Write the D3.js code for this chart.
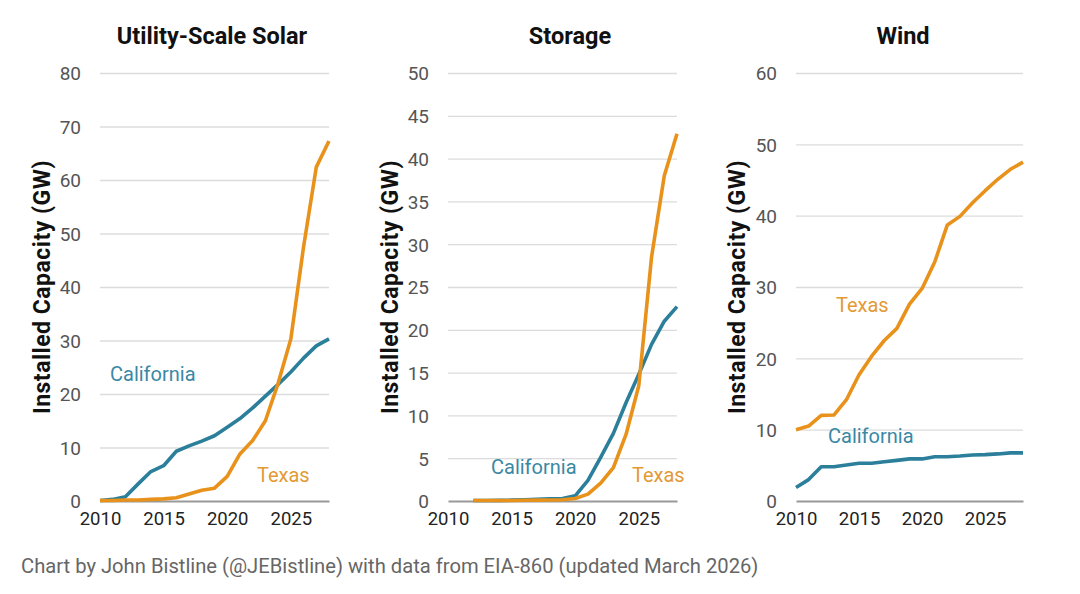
<!DOCTYPE html>
<html>
<head>
<meta charset="utf-8">
<script src="https://cdn.jsdelivr.net/npm/d3@7"></script>
<style>
  body { margin: 0; background: #fff; }
  svg { font-family: Roboto, "Noto Sans", sans-serif; display: block; }
  .grid line { stroke: #dcdcdc; stroke-width: 1.3; }
  .grid .domain { display: none; }
  .ytick text { fill: #555; font-size: 19px; }
  .xtick text { fill: #222; font-size: 18.5px; }
  .xtick .domain { stroke: #999; stroke-width: 2; }
  .xtick line { display: none; }
  .panelTitle { font-size: 23.5px; font-weight: bold; fill: #111; text-anchor: middle; }
  .axisTitle { font-size: 23px; font-weight: bold; fill: #111; text-anchor: middle; letter-spacing: 0.5px; }
  .seriesLabel { font-size: 20px; }
  .footer { font-size: 20.2px; fill: #666; }
</style>
</head>
<body>
<script>
//years on the x axis
var years = d3.range(2010, 2029);
var xTicks = [2010, 2015, 2020, 2025];

//utility-scale solar (GW)
var solarCalifornia = [0.1, 0.3, 0.8, 3.2, 5.5, 6.6, 9.3, 10.3, 11.2, 12.2, 13.8, 15.4, 17.4, 19.6, 21.8, 24.1, 26.7, 29.0, 30.3];
var solarTexas = [0.1, 0.1, 0.2, 0.2, 0.3, 0.4, 0.6, 1.3, 2.0, 2.4, 4.6, 8.8, 11.3, 15.0, 22.0, 30.3, 47.5, 62.4, 67.3];

//storage (GW), starts in 2012
var storageYears = d3.range(2012, 2029);
var storageCalifornia = [0.05, 0.05, 0.07, 0.1, 0.15, 0.2, 0.25, 0.3, 0.6, 2.4, 5.1, 7.9, 11.5, 14.8, 18.3, 21.0, 22.7];
var storageTexas = [0.05, 0.05, 0.05, 0.06, 0.08, 0.1, 0.12, 0.15, 0.3, 0.8, 2.1, 3.9, 7.8, 13.5, 28.5, 38.0, 42.9];

//wind (GW)
var windCalifornia = [1.9, 3.0, 4.8, 4.8, 5.05, 5.3, 5.3, 5.5, 5.7, 5.9, 5.9, 6.2, 6.2, 6.3, 6.45, 6.5, 6.6, 6.75, 6.75];
var windTexas = [10.0, 10.5, 12.0, 12.05, 14.2, 17.7, 20.3, 22.5, 24.2, 27.6, 29.8, 33.5, 38.7, 39.9, 41.8, 43.5, 45.1, 46.5, 47.5];

var panelTitles = ["Utility-Scale Solar", "Storage", "Wind"];
var yMaxes = [80, 50, 60];
var yTickSteps = [10, 5, 10];
var footerText = "Chart by John Bistline (@JEBistline) with data from EIA-860 (updated March 2026)";

var blue = "#2b7f9b",
    orange = "#e8921c",
    blueText = "#3a88a4",
    orangeText = "#e39a34";

var width = 1080,
    height = 594;

var svg = d3.select("body")
    .append("svg")
    .attr("width", width)
    .attr("height", height);

//panel frames: left/right of the plot area, label spots
var panels = [
    {x0: 100, x1: 329, titleX: 212, axisX: 42,
     ca: solarCalifornia, tx: solarTexas, yrs: years,
     caLabel: [110, 381], txLabel: [257, 482]},
    {x0: 448, x1: 677, titleX: 570, axisX: 390,
     ca: storageCalifornia, tx: storageTexas, yrs: storageYears,
     caLabel: [491, 474], txLabel: [632, 482]},
    {x0: 796, x1: 1023, titleX: 903, axisX: 737,
     ca: windCalifornia, tx: windTexas, yrs: years,
     caLabel: [828, 443], txLabel: [836, 312]}
];

var yTop = 73, yBottom = 501;

panels.forEach(function(p, i){
    var g = svg.append("g");

    var x = d3.scaleLinear()
        .domain([2010, 2028])
        .range([p.x0, p.x1]);

    var y = d3.scaleLinear()
        .domain([0, yMaxes[i]])
        .range([yBottom, yTop]);

    var yticks = d3.range(0, yMaxes[i] + 0.001, yTickSteps[i]);

    //gridlines
    g.append("g")
        .attr("class", "grid")
        .attr("transform", "translate(" + p.x0 + ",0)")
        .call(d3.axisLeft(y).tickValues(yticks.slice(1)).tickSize(-(p.x1 - p.x0)).tickFormat(""));

    //y tick labels
    var ya = g.append("g")
        .attr("class", "ytick")
        .attr("transform", "translate(" + (p.x0 - 19) + ",0)")
        .call(d3.axisLeft(y).tickValues(yticks).tickSize(0).tickPadding(0));
    ya.select(".domain").remove();
    ya.selectAll("text").attr("dy", "0.36em").attr("font-family", "Roboto");

    //x axis
    var xa = g.append("g")
        .attr("class", "xtick")
        .attr("transform", "translate(0," + yBottom + ")")
        .call(d3.axisBottom(x).tickValues(xTicks).tickFormat(d3.format("d")).tickSize(0).tickPadding(11).tickSizeOuter(0));
    xa.selectAll("text").attr("font-family", "Roboto");

    //lines
    var line = d3.line()
        .x(function(d){ return x(d[0]); })
        .y(function(d){ return y(d[1]); });

    [[p.ca, blue], [p.tx, orange]].forEach(function(s){
        var pts = p.yrs.map(function(yr, k){ return [yr, s[0][k]]; });
        g.append("path")
            .datum(pts)
            .attr("fill", "none")
            .attr("stroke", s[1])
            .attr("stroke-width", 3.6)
            .attr("stroke-linejoin", "round")
            .attr("d", line);
    });

    //series labels
    g.append("text")
        .attr("class", "seriesLabel")
        .attr("x", p.caLabel[0])
        .attr("y", p.caLabel[1])
        .attr("fill", blueText)
        .text("California");
    g.append("text")
        .attr("class", "seriesLabel")
        .attr("x", p.txLabel[0])
        .attr("y", p.txLabel[1])
        .attr("fill", orangeText)
        .text("Texas");

    //panel title
    g.append("text")
        .attr("class", "panelTitle")
        .attr("x", p.titleX)
        .attr("y", 44)
        .text(panelTitles[i]);

    //y axis title
    g.append("text")
        .attr("class", "axisTitle")
        .attr("transform", "translate(" + (p.axisX + 8) + "," + ((yTop + yBottom) / 2) + ") rotate(-90)")
        .text("Installed Capacity (GW)");
});

svg.append("text")
    .attr("class", "footer")
    .attr("x", 21)
    .attr("y", 573)
    .text(footerText);
</script>
</body>
</html>
